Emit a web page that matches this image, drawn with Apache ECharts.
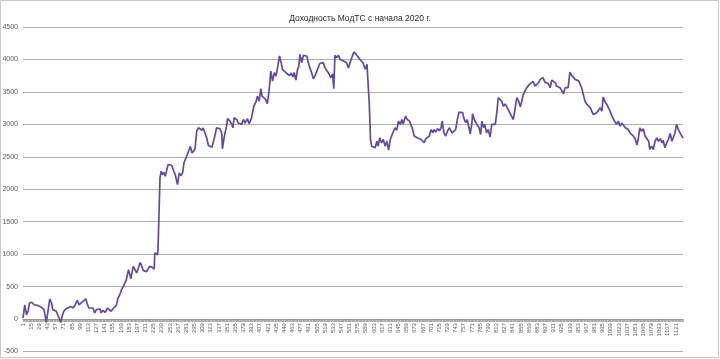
<!DOCTYPE html>
<html>
<head>
<meta charset="utf-8">
<script src="https://cdn.jsdelivr.net/npm/echarts@6/dist/echarts.min.js"></script>
<style>
html,body{margin:0;padding:0;background:#fff;}
#chart{width:720px;height:359px;}
</style>
</head>
<body>
<div id="chart"></div>
<script>
const chartTitle = 'Доходность МодТС с начала 2020 г.';
const dayCount = 1133;
const dayLabels = Array.from({length: dayCount}, (_, i) => String(i + 1));
const yTicks = {min: -500, max: 4500, step: 500};
// [day, return]
const returnByDay = [
[1,15],[4,220],[7,66],[10,130],[12,247],[16,256],[20,220],[22,247],[26,210],[28,240],[31,190],[34,220],[37,145],[41,-52],[44,130],[47,309],[50,247],[52,145],[55,170],[58,120],[61,95],[66,-52],[68,45],[71,120],[75,160],[78,130],[83,195],[87,170],[90,210],[94,290],[97,220],[100,247],[104,272],[109,310],[111,235],[114,170],[117,160],[121,170],[124,95],[127,145],[130,120],[133,155],[135,95],[138,135],[142,105],[146,170],[149,195],[152,120],[155,155],[158,135],[161,210],[164,324],[167,375],[170,452],[173,503],[175,490],[178,600],[182,760],[186,622],[190,812],[196,710],[202,873],[205,810],[207,750],[210,720],[213,730],[216,710],[218,812],[222,800],[225,805],[226,770],[227,1018],[230,1025],[232,990],[233,1224],[235,1240],[236,2176],[238,2278],[240,2227],[242,2260],[245,2200],[247,2280],[250,2381],[253,2396],[256,2370],[259,2293],[262,2227],[265,2200],[266,2072],[269,2253],[272,2210],[275,2260],[277,2407],[280,2432],[283,2535],[286,2612],[288,2660],[291,2560],[293,2540],[296,2620],[299,2895],[302,2947],[305,2930],[308,2910],[310,2945],[313,2870],[316,2793],[319,2674],[322,2700],[325,2648],[327,2670],[330,2818],[333,2947],[336,2920],[339,2930],[342,2860],[343,2623],[346,2800],[348,2780],[350,2972],[352,3091],[356,3050],[359,3000],[361,2947],[363,3102],[368,3070],[370,3020],[373,3034],[376,3000],[379,3075],[382,3020],[386,3086],[389,3010],[393,3100],[397,3281],[401,3358],[403,3435],[406,3358],[409,3549],[411,3435],[414,3460],[417,3384],[420,3320],[423,3512],[426,3821],[429,3667],[432,3795],[435,3745],[438,3898],[441,4053],[444,3940],[446,3847],[449,3820],[452,3795],[455,3820],[458,3750],[461,3790],[464,3730],[466,3800],[469,3682],[472,3850],[474,3890],[476,4079],[479,3950],[482,4065],[485,4040],[488,4050],[490,3960],[493,3870],[496,3795],[499,3703],[502,3750],[505,3820],[508,3795],[510,3937],[513,3910],[516,3950],[519,3870],[522,3840],[525,3790],[528,3795],[529,3720],[532,3780],[534,3549],[536,4063],[539,4030],[542,4063],[545,4000],[548,4030],[550,3980],[553,4010],[556,3950],[559,3870],[561,3840],[563,3976],[567,4080],[569,4115],[573,4070],[576,4090],[579,4000],[582,4030],[584,3950],[586,3976],[588,3850],[591,3924],[593,3900],[595,3300],[597,2767],[599,2664],[602,2690],[605,2640],[608,2741],[610,2664],[613,2793],[616,2716],[619,2767],[622,2664],[625,2741],[628,2602],[631,2767],[633,2818],[636,2793],[639,2947],[642,2910],[645,3050],[648,3000],[651,3075],[653,3000],[657,3127],[660,3075],[664,3050],[667,3020],[669,2930],[672,2820],[675,2845],[678,2790],[681,2820],[684,2767],[687,2793],[689,2716],[692,2780],[695,2767],[698,2820],[701,2920],[704,2870],[706,2920],[709,2880],[712,2935],[715,2900],[718,2947],[720,3050],[723,2870],[726,2820],[729,2895],[732,2947],[735,2960],[737,2870],[740,2845],[743,2920],[746,3075],[749,3188],[752,3160],[755,3180],[757,3100],[760,3030],[763,3070],[765,2990],[768,2855],[771,3024],[772,3163],[775,3075],[778,3024],[780,2990],[783,2950],[786,2844],[788,3050],[791,2950],[793,3000],[796,2870],[799,2920],[802,2803],[805,3000],[808,3024],[811,3000],[814,3204],[816,3410],[819,3385],[822,3358],[825,3280],[828,3315],[831,3305],[833,3230],[836,3178],[839,3153],[842,3075],[845,3050],[848,3410],[851,3358],[854,3270],[856,3335],[859,3460],[862,3512],[865,3565],[868,3590],[871,3627],[874,3615],[876,3660],[879,3590],[882,3565],[885,3640],[888,3693],[891,3680],[893,3720],[896,3650],[899,3680],[902,3630],[905,3565],[908,3680],[911,3655],[914,3640],[916,3590],[919,3615],[922,3565],[925,3575],[928,3472],[931,3565],[934,3540],[936,3565],[939,3805],[942,3755],[945,3730],[948,3693],[951,3710],[954,3670],[956,3690],[959,3565],[962,3460],[965,3358],[968,3310],[971,3335],[974,3255],[976,3280],[979,3153],[982,3127],[985,3180],[988,3204],[991,3255],[994,3204],[996,3420],[999,3358],[1002,3310],[1005,3310],[1008,3204],[1011,3130],[1014,3075],[1016,3050],[1019,3000],[1022,3050],[1025,2973],[1028,3020],[1031,3000],[1034,2947],[1037,2973],[1039,2920],[1042,2870],[1045,2845],[1048,2820],[1051,2770],[1054,2680],[1056,2770],[1059,2947],[1062,2895],[1065,2930],[1068,2820],[1071,2845],[1074,2740],[1076,2613],[1079,2665],[1082,2613],[1085,2740],[1088,2790],[1091,2740],[1094,2780],[1097,2715],[1099,2755],[1102,2640],[1105,2715],[1108,2770],[1111,2860],[1114,2740],[1116,2790],[1119,2860],[1122,2998],[1125,2920],[1128,2870],[1131,2820],[1133,2790]
];

const gridTop = 27, gridBottom = 7.5, chartH = 359;
const plotH = chartH - gridTop - gridBottom;
const zeroOffset = -plotH * (0 - yTicks.min) / (yTicks.max - yTicks.min);

const chart = echarts.init(document.getElementById('chart'), null, {renderer: 'canvas'});
chart.setOption({
  animation: false,
  backgroundColor: '#ffffff',
  title: {
    text: chartTitle,
    left: 'center',
    top: 9,
    textStyle: {fontFamily: 'Liberation Sans', fontSize: 8.5, fontWeight: 'normal', color: '#262626'}
  },
  graphic: [{
    type: 'rect', silent: true, z: -1,
    shape: {x: 0.5, y: 0.5, width: 718, height: 357},
    style: {fill: 'none', stroke: '#c8c8c8', lineWidth: 1}
  }],
  grid: {left: 23, right: 37, top: gridTop, bottom: gridBottom, containLabel: false, outerBoundsMode: 'none'},
  xAxis: {
    type: 'category',
    data: dayLabels,
    boundaryGap: false,
    position: 'bottom',
    offset: zeroOffset,
    axisLine: {onZero: false, lineStyle: {color: '#8c8c8c', width: 1}},
    axisTick: {show: true, interval: 0, length: 3, lineStyle: {color: '#9a9a9a', width: 0.6}},
    axisLabel: {interval: 13, rotate: 90, fontSize: 6, margin: 4, color: '#595959', fontFamily: 'Liberation Sans'},
    splitLine: {show: false}
  },
  yAxis: {
    type: 'value',
    min: yTicks.min, max: yTicks.max, interval: yTicks.step,
    axisLine: {show: false},
    axisTick: {show: false},
    axisLabel: {fontSize: 7, margin: 5, color: '#595959', fontFamily: 'Liberation Sans', formatter: v => String(v)},
    splitLine: {lineStyle: {color: '#b0b0b0', width: 1}}
  },
  series: [{
    type: 'line',
    data: returnByDay.map(p => [p[0] - 1, p[1]]),
    showSymbol: false,
    symbol: 'none',
    lineStyle: {color: '#65499c', width: 1.7},
    itemStyle: {color: '#65499c'}
  }]
});
</script>
</body>
</html>
